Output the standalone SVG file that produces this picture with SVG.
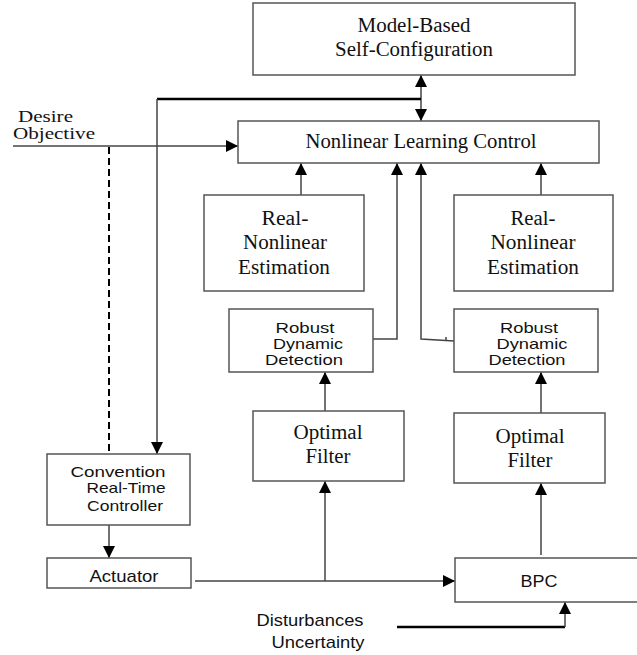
<svg xmlns="http://www.w3.org/2000/svg" width="637" height="655" viewBox="0 0 637 655">
<style>
.box{fill:#fff;stroke:#555;stroke-width:1.5}
.ser{font-family:"Liberation Serif","Times New Roman",serif;font-size:20px;fill:#111;text-anchor:middle}
.san{font-family:"Liberation Sans",Arial,sans-serif;font-size:17px;fill:#111;text-anchor:middle}
.sm{font-size:15px}
.ss{font-size:16px}
.ln{fill:none;stroke:#444;stroke-width:1.5}
.thick{fill:none;stroke:#000;stroke-width:2.5}
.dash{fill:none;stroke:#000;stroke-width:2;stroke-dasharray:7 4}
</style>
<defs>
<marker id="ah" markerUnits="userSpaceOnUse" markerWidth="12" markerHeight="12" viewBox="0 0 12 12" refX="12" refY="6" orient="auto-start-reverse">
<path d="M0,0 L12,6 L0,12 Z" fill="#000"/>
</marker>
</defs>
<rect x="0" y="0" width="637" height="655" fill="#fff"/>
<g id="connectors">
<path class="ln" d="M421,99 V75" marker-end="url(#ah)"/>
<path class="ln" d="M421,99 V121" marker-end="url(#ah)"/>
<path class="thick" d="M157,99 H421"/>
<path class="ln" d="M157,99 V454" marker-end="url(#ah)"/>
<path class="ln" d="M13,146 H238" marker-end="url(#ah)"/>
<path class="dash" d="M109,147 V454"/>
<path class="ln" d="M301,195 V163" marker-end="url(#ah)"/>
<path class="ln" d="M541,195 V163" marker-end="url(#ah)"/>
<path class="ln" d="M373,339 H397 V163" marker-end="url(#ah)"/>
<path class="ln" d="M454,341 L421,339 V163" marker-end="url(#ah)"/>
<path class="ln" d="M446,337 V340"/>
<path class="ln" d="M325,411 V372" marker-end="url(#ah)"/>
<path class="ln" d="M541,413 V372" marker-end="url(#ah)"/>
<path class="ln" d="M109,520 V558" marker-end="url(#ah)"/>
<path class="ln" d="M195,581 H455" marker-end="url(#ah)"/>
<path class="ln" d="M325,581 V481" marker-end="url(#ah)"/>
<path class="ln" d="M541,555 V483" marker-end="url(#ah)"/>
<path class="thick" d="M397,627 H565"/>
<path class="ln" d="M565,627 V602" marker-end="url(#ah)"/>
</g>
<g id="model">
<rect class="box" x="253" y="3" width="322" height="72"/>
<text class="ser" x="414" y="32" textLength="113" lengthAdjust="spacingAndGlyphs">Model-Based</text>
<text class="ser" x="414" y="56" textLength="158" lengthAdjust="spacingAndGlyphs">Self-Configuration</text>
</g>
<g id="nlc">
<rect class="box" x="238" y="121" width="361" height="42"/>
<text class="ser" x="421" y="148" textLength="231" lengthAdjust="spacingAndGlyphs">Nonlinear Learning Control</text>
</g>
<g id="desire">
<text class="ser ss" x="18" y="122" style="text-anchor:start" textLength="55" lengthAdjust="spacingAndGlyphs">Desire</text>
<text class="ser ss" x="13" y="139" style="text-anchor:start" textLength="82" lengthAdjust="spacingAndGlyphs">Objective</text>
</g>
<g id="rne1">
<rect class="box" x="204" y="195" width="160" height="96"/>
<text class="ser" x="285" y="225" textLength="47" lengthAdjust="spacingAndGlyphs">Real-</text>
<text class="ser" x="285" y="249" textLength="84" lengthAdjust="spacingAndGlyphs">Nonlinear</text>
<text class="ser" x="284" y="274" textLength="92" lengthAdjust="spacingAndGlyphs">Estimation</text>
</g>
<g id="rne2">
<rect class="box" x="454" y="195" width="159" height="96"/>
<text class="ser" x="533" y="225" textLength="45" lengthAdjust="spacingAndGlyphs">Real-</text>
<text class="ser" x="533" y="249" textLength="85" lengthAdjust="spacingAndGlyphs">Nonlinear</text>
<text class="ser" x="533" y="274" textLength="92" lengthAdjust="spacingAndGlyphs">Estimation</text>
</g>
<g id="rdd1">
<rect class="box" x="229" y="309" width="144" height="63"/>
<text class="san sm" x="305" y="333" textLength="59" lengthAdjust="spacingAndGlyphs">Robust</text>
<text class="san sm" x="308" y="349" textLength="70" lengthAdjust="spacingAndGlyphs">Dynamic</text>
<text class="san sm" x="304" y="365" textLength="78" lengthAdjust="spacingAndGlyphs">Detection</text>
</g>
<g id="rdd2">
<rect class="box" x="454" y="309" width="144" height="63"/>
<text class="san sm" x="529" y="333" textLength="58" lengthAdjust="spacingAndGlyphs">Robust</text>
<text class="san sm" x="532" y="349" textLength="71" lengthAdjust="spacingAndGlyphs">Dynamic</text>
<text class="san sm" x="527" y="365" textLength="77" lengthAdjust="spacingAndGlyphs">Detection</text>
</g>
<g id="of1">
<rect class="box" x="253" y="411" width="151" height="70"/>
<text class="ser" x="328" y="439" textLength="69" lengthAdjust="spacingAndGlyphs">Optimal</text>
<text class="ser" x="328" y="463" textLength="45" lengthAdjust="spacingAndGlyphs">Filter</text>
</g>
<g id="of2">
<rect class="box" x="454" y="413" width="151" height="70"/>
<text class="ser" x="530" y="443" textLength="69" lengthAdjust="spacingAndGlyphs">Optimal</text>
<text class="ser" x="530" y="467" textLength="45" lengthAdjust="spacingAndGlyphs">Filter</text>
</g>
<g id="conv">
<rect class="box" x="47" y="454" width="143" height="71"/>
<text class="san sm" x="118" y="477" textLength="95" lengthAdjust="spacingAndGlyphs">Convention</text>
<text class="san sm" x="126" y="493" textLength="79" lengthAdjust="spacingAndGlyphs">Real-Time</text>
<text class="san sm" x="125" y="511" textLength="76" lengthAdjust="spacingAndGlyphs">Controller</text>
</g>
<g id="act">
<rect class="box" x="47" y="558" width="144" height="30"/>
<text class="san" x="124" y="582" textLength="69" lengthAdjust="spacingAndGlyphs">Actuator</text>
</g>
<g id="bpc">
<rect class="box" x="455" y="558" width="190" height="44"/>
<text class="san" x="539" y="587" textLength="37" lengthAdjust="spacingAndGlyphs">BPC</text>
</g>
<g id="dist">
<text class="san" x="310" y="626" textLength="107" lengthAdjust="spacingAndGlyphs">Disturbances</text>
<text class="san" x="318" y="648" textLength="93" lengthAdjust="spacingAndGlyphs">Uncertainty</text>
</g>
</svg>
